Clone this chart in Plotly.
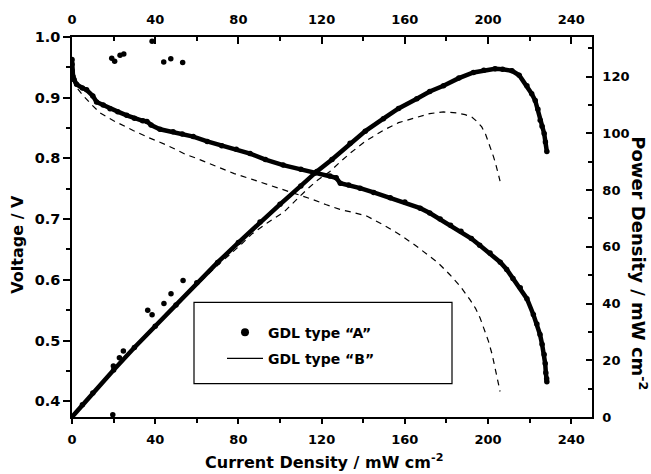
import plotly.graph_objects as go

# ---------------- data ----------------
# GDL type "A" : voltage curve
a_v_x = [0, 0, 0, 0.5, 1, 2.2, 5, 7, 10, 11.8, 15, 18.3, 22, 26.3, 30, 34, 36, 38, 42.3, 48.6, 53,
         58.3, 65, 72, 79, 85.6, 93, 101.5, 110, 116.9, 124, 127, 129, 133, 138.5, 145, 153, 160,
         167.4, 172, 177, 182, 187, 192, 196, 201, 205.9, 209, 212, 215.5, 218.7, 221.8, 223.5,
         225, 226, 227, 227.5, 227.8, 228.2, 228.3]
a_v_y = [0.963, 0.955, 0.945, 0.935, 0.93, 0.922, 0.916, 0.913, 0.903, 0.893, 0.888, 0.882, 0.877,
         0.871, 0.866, 0.862, 0.861, 0.855, 0.848, 0.844, 0.840, 0.836, 0.828, 0.821, 0.815, 0.808,
         0.798, 0.789, 0.782, 0.776, 0.771, 0.768, 0.759, 0.756, 0.751, 0.744, 0.735, 0.728, 0.718,
         0.710, 0.700, 0.690, 0.680, 0.668, 0.657, 0.644, 0.629, 0.617, 0.602, 0.587, 0.569, 0.543,
         0.527, 0.510, 0.494, 0.477, 0.462, 0.447, 0.437, 0.432]
# stray points of "A" on the voltage axis
a_v_out_x = [19.1, 20.5, 23.1, 24.9, 38.5, 44.1, 47.5, 53.2]
a_v_out_y = [0.965, 0.960, 0.970, 0.972, 0.993, 0.959, 0.964, 0.958]

# GDL type "A" : power density curve
a_p_x = [0, 5, 10, 20, 30, 40, 50, 60, 70, 80, 90.4, 100, 110, 117.7, 125, 133.7, 141, 149.7, 157,
         165.8, 172, 178.6, 186, 193, 198, 203.4, 207, 211.5, 215, 218.7, 221, 222.7, 224, 225.1,
         226, 227, 227.6, 228.3]
a_p_y = [0, 4.3, 8.5, 16.6, 24.5, 32.0, 39.5, 47.3, 54.5, 61.5, 68.8, 75.0, 81.5, 86.6, 90.8, 96.5,
         100.8, 105.2, 108.8, 112.2, 114.8, 116.8, 119.5, 121.5, 122.3, 122.8, 122.6, 122.1, 120.5,
         116.8, 114.0, 111.6, 108.5, 104.6, 102.5, 100.0, 97.0, 93.6]
# stray points of "A" on the power axis
a_p_out_x = [19.6, 19.9, 22.8, 24.7, 36.4, 38.5, 44.2, 47.6, 53.4]
a_p_out_y = [0.8, 18.0, 20.9, 23.3, 37.6, 36.1, 40.0, 43.5, 48.1]

# GDL type "B" : voltage curve
b_v_x = [0, 2, 5, 9, 13.5, 20, 29.4, 37, 45.5, 55, 60, 70, 78, 87, 94, 101.6, 108, 116, 122, 128.8,
         135, 141.7, 150, 157.8, 165, 170.6, 176, 181.8, 186.5, 191.4, 194, 196.2, 198.5, 200.2,
         202, 203.4, 204.8, 205.8]
b_v_y = [0.93, 0.918, 0.905, 0.89, 0.875, 0.862, 0.846, 0.834, 0.822, 0.806, 0.800, 0.786, 0.775,
         0.765, 0.757, 0.749, 0.741, 0.732, 0.724, 0.716, 0.711, 0.705, 0.690, 0.674, 0.657, 0.643,
         0.628, 0.608, 0.590, 0.567, 0.553, 0.537, 0.517, 0.499, 0.477, 0.455, 0.432, 0.416]

# GDL type "B" : power density curve
b_p_x = [0, 10, 20, 30, 40, 50, 60, 70, 80.8, 86.4, 94, 101.6, 107, 112.9, 118, 124, 129, 133.7, 141,
         149.7, 157, 165.8, 172, 178.6, 185, 189, 192.2, 195, 197, 198.8, 200.2, 201.5, 202.6,
         203.6, 204.5, 205.8]
b_p_y = [0, 8.4, 16.5, 24.3, 31.8, 39.2, 46.5, 53.5, 60.5, 64.5, 68.5, 72.1, 76.0, 80.2, 83.5, 86.6,
         90.0, 93.0, 97.2, 101.1, 103.8, 105.8, 107.0, 107.6, 107.2, 106.6, 105.8, 104.0, 102.3,
         99.8, 97.1, 94.5, 91.9, 89.5, 87.2, 83.2]

series_names = ["GDL type \u201cA\u201d", "GDL type \u201cB\u201d"]
x_ticks = [0, 40, 80, 120, 160, 200, 240]

# ---------------- figure ----------------
FONT = "DejaVu Sans"
BLACK = "#000000"

fig = go.Figure()

a_line = dict(color=BLACK, width=4.5)
a_mark = dict(color=BLACK, size=5.5)
b_line = dict(color=BLACK, width=1.2, dash="6px,5px")

fig.add_trace(go.Scatter(x=a_v_x, y=a_v_y, mode="lines+markers", line=a_line, marker=a_mark,
                         showlegend=False, xaxis="x", yaxis="y"))
fig.add_trace(go.Scatter(x=a_v_out_x, y=a_v_out_y, mode="markers", marker=a_mark,
                         showlegend=False, xaxis="x", yaxis="y"))
fig.add_trace(go.Scatter(x=a_p_x, y=a_p_y, mode="lines+markers", line=a_line, marker=a_mark,
                         showlegend=False, xaxis="x", yaxis="y2"))
fig.add_trace(go.Scatter(x=a_p_out_x, y=a_p_out_y, mode="markers", marker=a_mark,
                         showlegend=False, xaxis="x", yaxis="y2"))
fig.add_trace(go.Scatter(x=b_v_x, y=b_v_y, mode="lines", line=b_line,
                         showlegend=False, xaxis="x", yaxis="y"))
fig.add_trace(go.Scatter(x=b_p_x, y=b_p_y, mode="lines", line=b_line,
                         showlegend=False, xaxis="x", yaxis="y2"))

# legend entries
fig.add_trace(go.Scatter(x=[None], y=[None], mode="markers", name=series_names[0],
                         marker=dict(color=BLACK, size=8), legendgroup="a",
                         xaxis="x2", yaxis="y"))
fig.add_trace(go.Scatter(x=[None], y=[None], mode="lines", name=series_names[1],
                         line=dict(color=BLACK, width=1.2), legendgroup="b",
                         xaxis="x2", yaxis="y"))

L, R, T, B = 72, 59, 32, 57.3
W, H = 651, 474
pw = W - L - R
ph = H - T - B

def px(xp):
    return (xp - L) / pw

def py(yp):
    return (H - B - yp) / ph

axis_common = dict(showline=True, linecolor=BLACK, linewidth=1.5, showgrid=False, zeroline=False,
                   tickcolor=BLACK, tickwidth=1.5)

fig.update_layout(
    width=W, height=H,
    margin=dict(l=L, r=R, t=T, b=B, pad=0),
    paper_bgcolor="white", plot_bgcolor="white",
    font=dict(family=FONT, color=BLACK, weight="bold"),
    xaxis=dict(**axis_common, range=[0, 250], tickvals=x_ticks, ticks="outside", ticklen=5,
               tickfont=dict(size=13, family=FONT, weight="bold"), ticklabelstandoff=5,
               minor=dict(ticks="outside", dtick=20, tick0=0, ticklen=4, tickcolor=BLACK,
                          tickwidth=1.5)),
    xaxis2=dict(**axis_common, range=[0, 250], tickvals=x_ticks, ticks="inside", ticklen=7,
                side="top", overlaying="x", matches="x",
                tickfont=dict(size=13, family=FONT, weight="bold"), ticklabelstandoff=6,
                minor=dict(ticks="inside", dtick=20, tick0=0, ticklen=4, tickcolor=BLACK,
                           tickwidth=1.5)),
    yaxis=dict(**axis_common, range=[0.374, 1.0], dtick=0.1, tick0=0, ticks="outside", ticklen=7,
               tickformat=".1f", tickfont=dict(size=14.5, family=FONT, weight="bold"),
               minor=dict(ticks="outside", dtick=0.05, tick0=0, ticklen=4, tickcolor=BLACK,
                          tickwidth=1.5)),
    yaxis2=dict(**axis_common, range=[0, 134], dtick=20, tick0=0, ticks="inside", ticklen=6,
                side="right", overlaying="y", ticklabelstandoff=6,
                tickfont=dict(size=13, family=FONT, weight="bold"),
                minor=dict(ticks="inside", dtick=10, tick0=0, ticklen=4, tickcolor=BLACK,
                           tickwidth=1.5)),
    legend=dict(x=px(222), y=py(315), xanchor="left", yanchor="top", bgcolor="rgba(0,0,0,0)",
                borderwidth=0, traceorder="grouped", tracegroupgap=5, itemwidth=36,
                font=dict(size=14, family=FONT, weight="bold", color=BLACK)),
    shapes=[dict(type="rect", xref="paper", yref="paper", x0=px(194), x1=px(452), y0=py(383),
                 y1=py(300.7), line=dict(color=BLACK, width=1.2), fillcolor="rgba(0,0,0,0)")],
    annotations=[
        dict(text="Voltage / V", xref="paper", yref="paper", x=px(17.5), y=py(241.7),
             textangle=-90, showarrow=False, xanchor="center", yanchor="middle",
             font=dict(size=16, family=FONT, weight="bold")),
        dict(text="Power Density / mW cm<sup>-2</sup>", xref="paper", yref="paper", x=px(639),
             y=py(261), textangle=90, showarrow=False, xanchor="center", yanchor="middle",
             font=dict(size=18, family=FONT, weight="bold")),
        dict(text="Current Density / mW cm<sup>-2</sup>", xref="paper", yref="paper", x=px(324),
             y=py(462), showarrow=False, xanchor="center", yanchor="middle",
             font=dict(size=16, family=FONT, weight="bold")),
    ],
)

fig.write_html("out.html")
